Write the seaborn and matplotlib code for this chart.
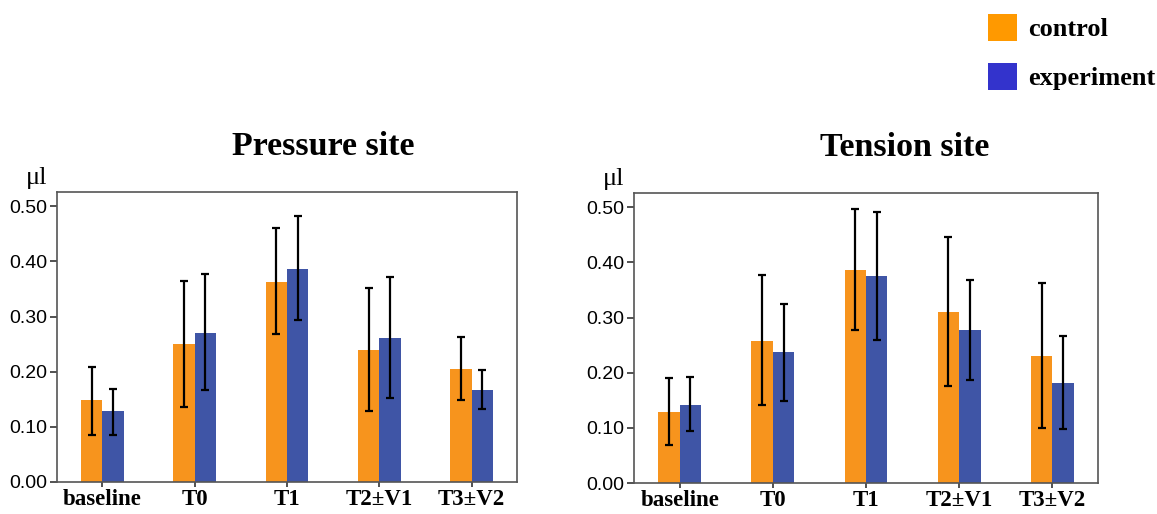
import numpy as np
import pandas as pd
import matplotlib
matplotlib.use("Agg")
import matplotlib.pyplot as plt
import seaborn as sns
from matplotlib.patches import Patch
from matplotlib.container import BarContainer

categories = ["baseline", "T0", "T1", "T2\u00b1V1", "T3\u00b1V2"]
groups = ["control", "experiment"]

# Pressure site
p_control = [0.148, 0.250, 0.363, 0.239, 0.205]
p_control_lo = [0.086, 0.136, 0.268, 0.129, 0.148]
p_control_hi = [0.209, 0.364, 0.460, 0.352, 0.263]
p_exp = [0.128, 0.270, 0.387, 0.261, 0.167]
p_exp_lo = [0.086, 0.166, 0.293, 0.152, 0.133]
p_exp_hi = [0.169, 0.377, 0.482, 0.372, 0.203]

# Tension site
t_control = [0.129, 0.258, 0.387, 0.310, 0.230]
t_control_lo = [0.069, 0.141, 0.277, 0.176, 0.100]
t_control_hi = [0.190, 0.377, 0.497, 0.446, 0.362]
t_exp = [0.142, 0.237, 0.375, 0.277, 0.182]
t_exp_lo = [0.094, 0.148, 0.259, 0.186, 0.098]
t_exp_hi = [0.192, 0.325, 0.492, 0.369, 0.266]

bar_colors = ["#F7941D", "#3F55A6"]
legend_colors = ["#FF9900", "#3333CC"]

sns.set_style("white")
plt.rcParams["text.color"] = "black"
serif = ["Liberation Serif", "DejaVu Serif"]
sans = ["Liberation Sans", "DejaVu Sans"]

fig = plt.figure(figsize=(11.57, 5.14), dpi=100)
ax1 = fig.add_axes([57/1157, 32/514, 460/1157, 290/514])
ax2 = fig.add_axes([634/1157, 31/514, 464/1157, 290/514])

panels = [
    (ax1, "Pressure site", p_control, p_control_lo, p_control_hi, p_exp, p_exp_lo, p_exp_hi, 0.578),
    (ax2, "Tension site", t_control, t_control_lo, t_control_hi, t_exp, t_exp_lo, t_exp_hi, 0.584),
]

for ax, title, c, clo, chi, e, elo, ehi, tx in panels:
    df = pd.DataFrame({
        "time": categories * 2,
        "group": [groups[0]] * 5 + [groups[1]] * 5,
        "value": c + e,
    })
    sns.barplot(data=df, x="time", y="value", hue="group", order=categories,
                hue_order=groups, palette=bar_colors, width=0.46, gap=0,
                errorbar=None, legend=False, ax=ax, saturation=1, linewidth=0)
    los = [clo, elo]
    his = [chi, ehi]
    vals = [c, e]
    bar_conts = [cn for cn in ax.containers if isinstance(cn, BarContainer)]
    for gi, cont in enumerate(bar_conts):
        for i, patch in enumerate(cont.patches):
            xc = patch.get_x() + patch.get_width() / 2
            v = vals[gi][i]
            ax.errorbar([xc], [v], yerr=[[v - los[gi][i]], [his[gi][i] - v]],
                        fmt="none", ecolor="black", elinewidth=1.6,
                        capsize=2.6, capthick=1.6, zorder=5)
    ax.set_xlim(-0.49, 4.49)
    ax.set_ylim(0, 0.526)
    ax.set_yticks([0.0, 0.1, 0.2, 0.3, 0.4, 0.5])
    ax.set_yticklabels(["0.00", "0.10", "0.20", "0.30", "0.40", "0.50"],
                       family=sans, fontsize=14, color="black")
    ax.set_xticks(range(5))
    ax.set_xticklabels(categories, family=serif, fontsize=16.5, fontweight="bold",
                       color="black")
    ax.set_xlabel("")
    ax.set_ylabel("")
    ax.tick_params(axis="y", direction="out", length=5, width=1.2,
                   color="#333333", pad=2, left=True)
    ax.tick_params(axis="x", direction="out", length=3.5, width=1.2,
                   color="#333333", pad=1.5, bottom=True)
    for s in ax.spines.values():
        s.set_visible(True)
        s.set_color("#555555")
        s.set_linewidth(1.2)
    ax.text(tx, 1.128, title, transform=ax.transAxes, ha="center", va="baseline",
            family=serif, fontsize=24.5, fontweight="bold", color="black")
    ax.text(-0.068, 1.012, "\u03bcl", transform=ax.transAxes, ha="left",
            va="bottom", family=serif, fontsize=19, color="black")

handles = [Patch(facecolor=legend_colors[0], edgecolor="none", label=groups[0]),
           Patch(facecolor=legend_colors[1], edgecolor="none", label=groups[1])]
fig.legend(handles=handles, loc="upper left", bbox_to_anchor=(988/1157, 1 - 14/514),
           frameon=False, prop={"family": serif, "size": 19, "weight": "bold"},
           handlelength=1.1, handleheight=1.2, labelspacing=0.8, handletextpad=0.42,
           borderaxespad=0, borderpad=0)

fig.savefig("out.png", dpi=100, facecolor="white")
